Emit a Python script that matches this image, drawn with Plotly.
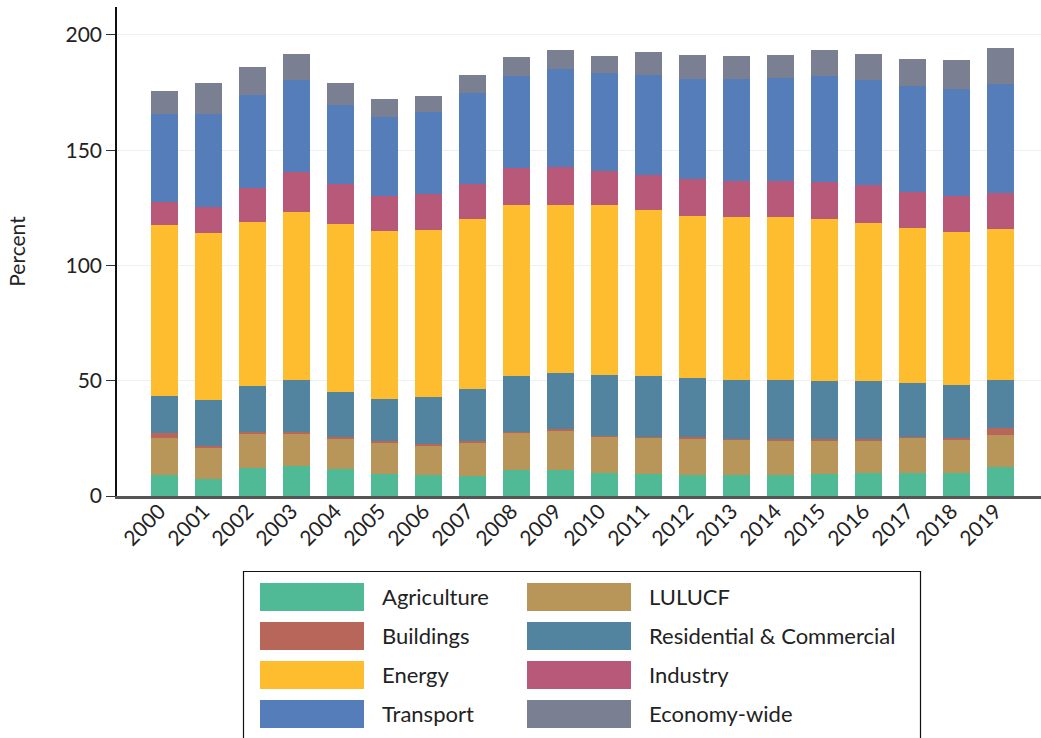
import plotly.graph_objects as go

years = [str(y) for y in range(2000, 2020)]

agriculture = [9.0, 7.4, 12.3, 13.2, 11.7, 9.7, 9.0, 8.7, 11.4, 11.4, 9.8, 9.7, 9.0, 9.0, 9.0, 9.7, 9.8, 9.8, 9.8, 12.6]
lulucf = [16.2, 13.4, 14.6, 13.7, 13.0, 13.3, 13.1, 14.3, 16.1, 16.9, 15.8, 15.6, 15.9, 15.3, 14.9, 14.2, 14.1, 15.4, 14.5, 13.9]
buildings = [2.1, 0.9, 1.0, 1.0, 0.9, 0.9, 0.6, 0.9, 0.4, 0.8, 0.6, 0.3, 0.7, 0.4, 0.8, 0.8, 0.8, 0.4, 1.0, 3.1]
res_com = [16.2, 19.9, 20.0, 22.4, 19.5, 18.2, 20.3, 22.5, 24.3, 24.3, 26.3, 26.6, 25.7, 25.6, 25.6, 25.2, 25.2, 23.4, 23.0, 20.7]
energy = [74.1, 72.5, 71.0, 72.9, 72.9, 72.9, 72.4, 73.8, 74.0, 72.8, 73.7, 71.9, 70.2, 70.8, 70.8, 70.3, 68.5, 67.3, 66.2, 65.5]
industry = [10.1, 11.3, 14.9, 17.5, 17.5, 15.3, 15.8, 15.3, 16.2, 16.5, 14.8, 15.2, 16.0, 15.6, 15.6, 16.0, 16.5, 15.7, 15.8, 15.7]
transport = [38.2, 40.5, 40.2, 39.8, 34.1, 34.1, 35.4, 39.3, 39.8, 42.5, 42.5, 43.3, 43.4, 44.2, 44.6, 46.0, 45.6, 46.0, 46.3, 47.2]
economy_wide = [9.8, 13.3, 12.1, 11.3, 9.6, 7.8, 6.9, 7.8, 8.3, 8.3, 7.4, 10.0, 10.4, 10.0, 10.0, 11.3, 11.3, 11.6, 12.6, 15.7]

# stacking order bottom -> top
series_names = ["Agriculture", "LULUCF", "Buildings", "Residential & Commercial",
                "Energy", "Industry", "Transport", "Economy-wide"]
series_values = [agriculture, lulucf, buildings, res_com, energy, industry, transport, economy_wide]
series_colors = ["#50B995", "#B8965A", "#B8665A", "#52849F",
                 "#FDBD2F", "#B8597A", "#557DBA", "#7A7F92"]

# legend layout (column-major, two columns)
legend_col1 = ["Agriculture", "Buildings", "Energy", "Transport"]
legend_col2 = ["LULUCF", "Residential & Commercial", "Industry", "Economy-wide"]

FONT = "Lato"
W, H = 1041, 738
L, R, T, B = 117, 0, 7, 242

fig = go.Figure()
for name, vals, col in zip(series_names, series_values, series_colors):
    fig.add_trace(go.Bar(x=years, y=vals, name=name, marker=dict(color=col, line=dict(width=0)),
                         showlegend=False))

pw = W - L - R
ph = H - T - B


def px_x(x):
    return (x - L) / pw


def px_y(y):
    return (H - B - y) / ph


shapes = []
annotations = []
# legend box
shapes.append(dict(type="rect", xref="paper", yref="paper",
                   x0=px_x(243.5), x1=px_x(920.5), y0=px_y(745), y1=px_y(571.5),
                   line=dict(color="#111", width=1.2), fillcolor="rgba(0,0,0,0)", layer="above"))
color_of = dict(zip(series_names, series_colors))
row_tops = [583, 622, 661, 700]
for col_names, sx, tx in [(legend_col1, 260, 380), (legend_col2, 527, 647)]:
    for i, nm in enumerate(col_names):
        y0 = row_tops[i]
        shapes.append(dict(type="rect", xref="paper", yref="paper",
                           x0=px_x(sx), x1=px_x(sx + 104), y0=px_y(y0 + 28), y1=px_y(y0),
                           line=dict(width=0), fillcolor=color_of[nm], layer="above"))
        annotations.append(dict(xref="paper", yref="paper", x=px_x(tx), y=px_y(y0 + 13),
                                text=nm, showarrow=False, xanchor="left", yanchor="middle",
                                font=dict(family=FONT, size=22, color="#222")))

fig.update_layout(
    barmode="stack",
    bargap=0.386,
    width=W, height=H,
    margin=dict(l=L, r=R, t=T, b=B, autoexpand=False),
    paper_bgcolor="white", plot_bgcolor="white",
    font=dict(family=FONT, size=21, color="#222"),
    shapes=shapes,
    annotations=annotations,
    showlegend=False,
)
fig.update_xaxes(range=[-1.08, 19.92], tickangle=-45, showline=True, linecolor="#555",
                 linewidth=2.5, ticks="", showgrid=False, tickfont=dict(size=21, family=FONT),
                 zeroline=False, ticklabelstandoff=-8, ticklabelshift=-5)
fig.update_yaxes(range=[0, 212.1], tickvals=[0, 50, 100, 150, 200], showline=True,
                 linecolor="#111", linewidth=1.5, ticks="outside", ticklen=9, tickcolor="#333",
                 showgrid=True, gridcolor="#EAF2F3", gridwidth=1, zeroline=False,
                 title=dict(text="Percent", font=dict(size=21, family=FONT), standoff=34),
                 tickfont=dict(size=21, family=FONT))

fig.write_html("out.html", config={"displayModeBar": False},
               post_script="document.body.style.margin='0';document.body.style.padding='0';")
